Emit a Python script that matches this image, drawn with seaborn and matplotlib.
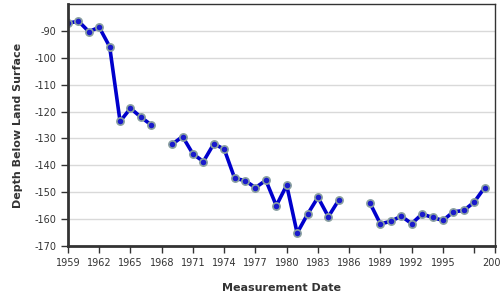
import numpy as np
import pandas as pd
import matplotlib
matplotlib.use("Agg")
import matplotlib.pyplot as plt
import seaborn as sns

years = list(range(1959, 2000))
depth = [-87.2, -86.4, -90.3, -88.7, -95.9, -123.7, -118.8, -122.1, -125.0, np.nan,
         -132.2, -129.3, -135.8, -138.6, -132.0, -134.0, -144.8, -145.7, -148.3, -145.6,
         -155.0, -147.4, -165.2, -158.2, -151.9, -159.1, -152.9, np.nan, np.nan, -154.1,
         -161.8, -160.8, -158.9, -161.7, -158.1, -159.4, -160.5, -157.3, -156.8, -153.7,
         -148.3]
tick_years = [1959, 1962, 1965, 1968, 1971, 1974, 1977, 1980, 1983, 1986, 1989, 1992, 1995, 1998, 2000]
tick_labels = ["1959", "1962", "1965", "1968", "1971", "1974", "1977", "1980", "1983", "1986",
               "1989", "1992", "1995", "", "2000"]
y_ticks = [-90, -100, -110, -120, -130, -140, -150, -160, -170]

df = pd.DataFrame({"year": years, "depth": depth})
seg = df["depth"].isna().cumsum()
df["seg"] = seg
df = df.dropna()

sns.set_style("white")
plt.rcParams["font.family"] = ["DejaVu Sans"]
plt.rcParams["axes.unicode_minus"] = False

fig = plt.figure(figsize=(5, 3), dpi=100)
ax = fig.add_axes([0.136, 0.18, 0.854, 0.807])

for yv in y_ticks:
    ax.axhline(yv, color="#d9d9d9", lw=1, zorder=0)

sns.lineplot(data=df, x="year", y="depth", units="seg", estimator=None, ax=ax,
             color="#0000cc", lw=2.6, marker="o", markersize=5.2,
             markerfacecolor="#1a1acc", markeredgecolor="#8aa0a0", markeredgewidth=1.2,
             legend=False)

ax.set_xlim(1959, 2000)
ax.set_ylim(-170, -80)
ax.set_xticks(tick_years)
ax.set_xticklabels(tick_labels)
ax.set_yticks(y_ticks)
ax.tick_params(axis="both", labelsize=7, colors="#333333", length=5, width=1, direction="out")
ax.tick_params(axis="both", bottom=True, left=True)
for lab in ax.get_xticklabels() + ax.get_yticklabels():
    lab.set_color("#333333")
ax.set_xlabel("Measurement Date", fontsize=8, fontweight="bold", color="#333333", labelpad=11)
ax.set_ylabel("Depth Below Land Surface", fontsize=8, fontweight="bold", color="#333333", labelpad=8)

for side in ["left", "bottom"]:
    ax.spines[side].set_linewidth(2)
    ax.spines[side].set_color("#333333")
for side in ["top", "right"]:
    ax.spines[side].set_linewidth(1)
    ax.spines[side].set_color("#333333")

fig.savefig("out.png", dpi=100)
